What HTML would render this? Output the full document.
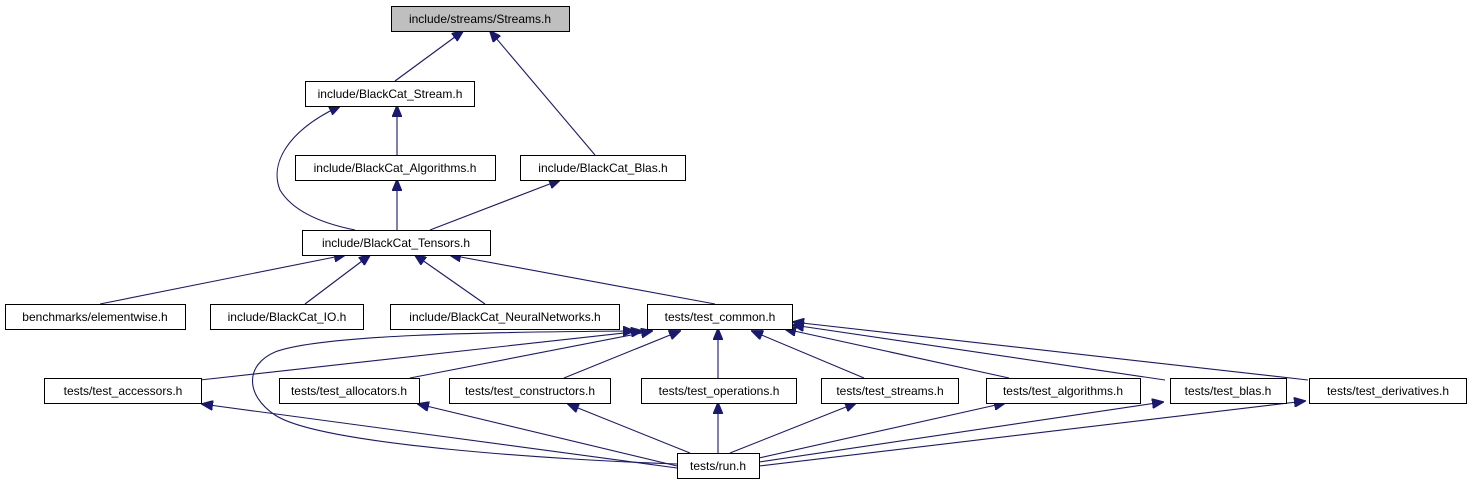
<!DOCTYPE html>
<html><head><style>
body{margin:0;background:#fff;}
svg text{font-family:"Liberation Sans",sans-serif;font-size:12px;}
</style></head><body>
<svg width="1473" height="485" xmlns="http://www.w3.org/2000/svg">
<defs>
<marker id="a" markerWidth="12" markerHeight="10" refX="11" refY="5" orient="auto-start-reverse" markerUnits="userSpaceOnUse">
<path d="M0,0 L12,5 L0,10 Z" fill="#191970" stroke="#191970"/>
</marker>
</defs>
<g fill="none" stroke="#191970" stroke-width="1.1" marker-start="url(#a)">
<path d="M463,31 L395,81"/>
<path d="M490,31 L595,155"/>
<path d="M397,106 L397,155"/>
<path d="M340,106 C285,132 270,165 280,190 C295,215 330,225 355,230"/>
<path d="M397,180 L397,230"/>
<path d="M560,180 L430,230"/>
<path d="M345,255 L100,304"/>
<path d="M370,255 L305,304"/>
<path d="M415,255 L485,304"/>
<path d="M450,255 L715,304"/>
<path d="M642,331 L200,380"/>
<path d="M652,331 L410,378"/>
<path d="M680,331 L564,378"/>
<path d="M718,329 L718,378"/>
<path d="M752,331 L864,378"/>
<path d="M785,329 L1009,378"/>
<path d="M793,325 L1165,380"/>
<path d="M793,322 L1308,380"/>
<path d="M634,331 C480,332 320,335 275,352 C245,365 245,395 275,415 C320,445 560,460 677,464"/>
<path d="M202,404 L677,468"/>
<path d="M418,404 L677,466"/>
<path d="M568,404 L690,453"/>
<path d="M718,403 L718,453"/>
<path d="M856,403 L730,453"/>
<path d="M1005,403 L759,458"/>
<path d="M1163,402 L759,462"/>
<path d="M1305,401 L759,466"/>
</g>
<g stroke="#000" stroke-width="1" fill="#fff">
<rect x="391.5" y="6.5" width="178" height="25" fill="#bfbfbf"/>
<rect x="305.5" y="81.5" width="169" height="25"/>
<rect x="295.5" y="155.5" width="200" height="25"/>
<rect x="520.5" y="155.5" width="165" height="25"/>
<rect x="302.5" y="230.5" width="188" height="25"/>
<rect x="5.5" y="304.5" width="180" height="25"/>
<rect x="210.5" y="304.5" width="153" height="25"/>
<rect x="390.5" y="304.5" width="229" height="25"/>
<rect x="647.5" y="304.5" width="145" height="25"/>
<rect x="44.5" y="378.5" width="157" height="25"/>
<rect x="279.5" y="378.5" width="140" height="25"/>
<rect x="449.5" y="378.5" width="161" height="25"/>
<rect x="641.5" y="378.5" width="155" height="25"/>
<rect x="821.5" y="378.5" width="137" height="25"/>
<rect x="986.5" y="378.5" width="154" height="25"/>
<rect x="1170.5" y="378.5" width="116" height="25"/>
<rect x="1309.5" y="378.5" width="157" height="25"/>
<rect x="677.5" y="453.5" width="82" height="25"/>
</g>
<g text-anchor="middle" fill="#000">
<text x="480" y="23">include/streams/Streams.h</text>
<text x="390" y="98">include/BlackCat_Stream.h</text>
<text x="395" y="172">include/BlackCat_Algorithms.h</text>
<text x="603" y="172">include/BlackCat_Blas.h</text>
<text x="396" y="247">include/BlackCat_Tensors.h</text>
<text x="95" y="321">benchmarks/elementwise.h</text>
<text x="287" y="321">include/BlackCat_IO.h</text>
<text x="505" y="321">include/BlackCat_NeuralNetworks.h</text>
<text x="720" y="321">tests/test_common.h</text>
<text x="123" y="395">tests/test_accessors.h</text>
<text x="349" y="395">tests/test_allocators.h</text>
<text x="530" y="395">tests/test_constructors.h</text>
<text x="719" y="395">tests/test_operations.h</text>
<text x="890" y="395">tests/test_streams.h</text>
<text x="1063" y="395">tests/test_algorithms.h</text>
<text x="1228" y="395">tests/test_blas.h</text>
<text x="1388" y="395">tests/test_derivatives.h</text>
<text x="718" y="470">tests/run.h</text>
</g>
</svg>
</body></html>
